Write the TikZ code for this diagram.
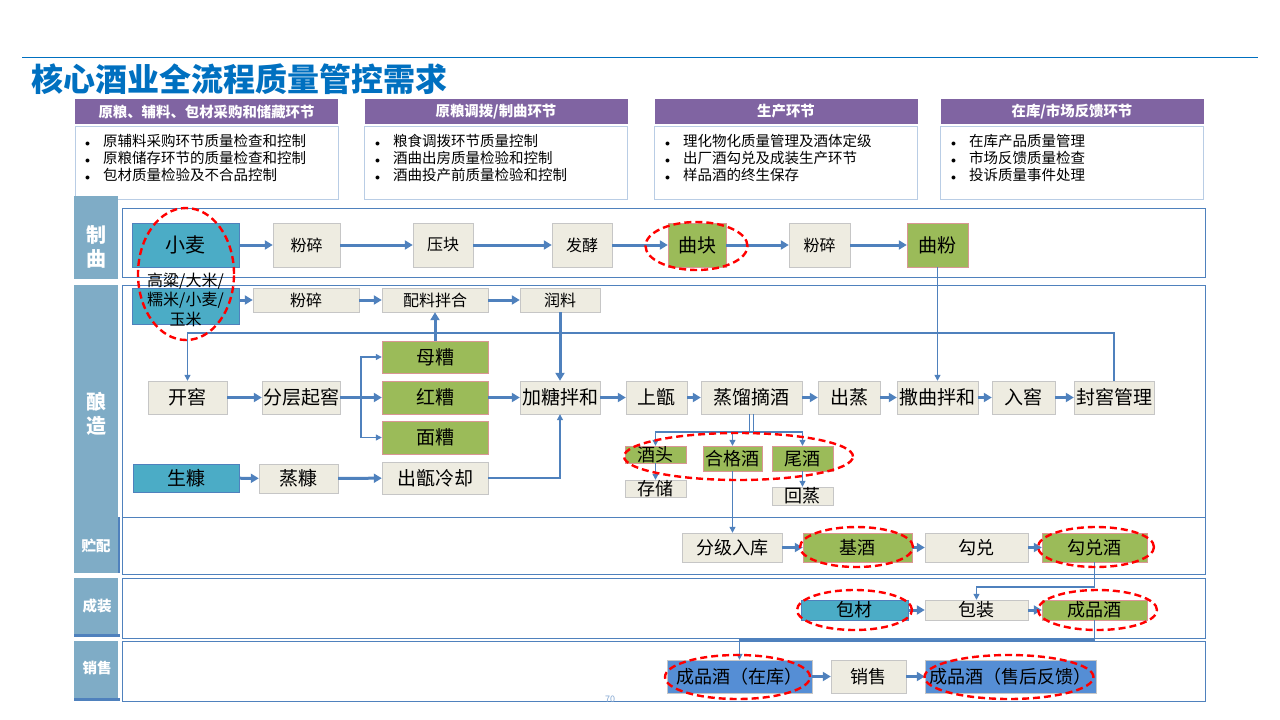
\documentclass[tikz,border=0pt]{standalone}
\usepackage{fontspec}
\setmainfont{Noto Sans CJK SC}
\usepackage{xcolor}
\usepackage{tikz}
\usetikzlibrary{arrows.meta,positioning,shapes.geometric}

\definecolor{titleblue}{HTML}{0070C0}
\definecolor{purplehead}{HTML}{8064A2}
\definecolor{bodyedge}{HTML}{B9CDE5}
\definecolor{bandblue}{HTML}{7FACC6}
\definecolor{laneedge}{HTML}{4F81BD}
\definecolor{beige}{HTML}{EEECE1}
\definecolor{leaf}{HTML}{9BBB59}
\definecolor{pinkedge}{HTML}{D99694}
\definecolor{cyanfill}{HTML}{4BACC6}
\definecolor{skyfill}{HTML}{558ED5}

\newcommand{\bul}{\makebox[18pt][l]{\fontsize{10}{10}\selectfont$\bullet$}}

\begin{document}
\begin{tikzpicture}[
    >={Triangle[length=8pt,width=9pt]},
    x=1pt, y=-1pt,
    band/.style={fill=bandblue,inner sep=0pt,minimum width=44},
    bandtext/.style={text=white,inner sep=0pt,align=center,
                     font=\fontsize{20}{24}\selectfont\bfseries},
    bandsmall/.style={bandtext,font=\fontsize{14.5}{16}\selectfont\bfseries},
    lane/.style={draw=laneedge,line width=0.9pt,inner sep=0pt,minimum width=1083},
    headbar/.style={fill=purplehead,text=white,inner sep=0pt,minimum width=263,
                    minimum height=25,font=\fontsize{14.4}{16}\selectfont\bfseries},
    bodybox/.style={draw=bodyedge,line width=0.8pt,inner sep=0pt,
                    minimum width=263,minimum height=73},
    bullets/.style={anchor=north west,align=left,inner sep=0pt,
                    font=\fontsize{14.5}{17}\selectfont},
    box/.style={draw=gray!45,fill=beige,inner sep=0pt,minimum height=33,
                font=\fontsize{19}{21}\selectfont},
    fsmall/.style={font=\fontsize{16}{18}\selectfont},
    fmid/.style={font=\fontsize{18}{20}\selectfont},
    greenbox/.style={box,fill=leaf,draw=pinkedge},
    rawbox/.style={box,fill=cyanfill,draw=laneedge},
    stockbox/.style={box,fill=skyfill,draw=gray!45},
    flow/.style={->,laneedge,line width=3pt},
    link/.style={laneedge,line width=1.2pt},
    linkto/.style={link,-{Triangle[length=6pt,width=6pt]}},
    ring/.style={ellipse,draw=red,line width=2.4pt,dash pattern=on 7pt off 4pt,
                 inner sep=0pt},
  ]
  \useasboundingbox (0,0) rectangle (1280,720);

  % --- title and rule ---
  \draw[titleblue,line width=1pt] (22,57) -- (1258,57);
  \node[anchor=west,inner sep=0pt,text=titleblue,
        font=\fontsize{32}{34}\selectfont\bfseries] (title) at (31,79)
    {核心酒业全流程质量管控需求};

  % --- four requirement panels ---
  \node[headbar] (h1) at (206.5,111.5) {原粮、辅料、包材采购和储藏环节};
  \node[headbar] (h2) at (496,111.5)   {原粮调拨/制曲环节};
  \node[headbar] (h3) at (786,111.5)   {生产环节};
  \node[headbar] (h4) at (1072,111.5)  {在库/市场反馈环节};

  \node[bodybox] (b1) at (206.5,162.5) {};
  \node[bodybox] (b2) at (496,162.5)   {};
  \node[bodybox] (b3) at (786,162.5)   {};
  \node[bodybox] (b4) at (1072,162.5)  {};

  \node[bullets] (t1) at (85,134)
    {\bul 原辅料采购环节质量检查和控制\\\bul 原粮储存环节的质量检查和控制\\\bul 包材质量检验及不合品控制};
  \node[bullets] (t2) at (375,134)
    {\bul 粮食调拨环节质量控制\\\bul 酒曲出房质量检验和控制\\\bul 酒曲投产前质量检验和控制};
  \node[bullets] (t3) at (665,134)
    {\bul 理化物化质量管理及酒体定级\\\bul 出厂酒勾兑及成装生产环节\\\bul 样品酒的终生保存};
  \node[bullets] (t4) at (951,134)
    {\bul 在库产品质量管理\\\bul 市场反馈质量检查\\\bul 投诉质量事件处理};

  % --- stage bands (left) and lanes ---
  \node[band,minimum height=83]  (bandQu)    at (96,237.5) {};
  \node[band,minimum height=232] (bandBrew)  at (96,401)   {};
  \node[band,minimum height=56]  (bandStore) at (96,545)   {};
  \node[band,minimum height=59]  (bandPack)  at (96,607.5) {};
  \node[band,minimum height=60]  (bandSale)  at (96,671)   {};
  \fill[laneedge] (117.5,517) rectangle (120,573);
  \fill[laneedge] (74,634) rectangle (120,637);
  \fill[laneedge] (74,698) rectangle (120,701);

  \node[bandtext]  (tQu)    at (96,247) {制\\曲};
  \node[bandtext]  (tBrew)  at (96,414) {酿\\造};
  \node[bandsmall] (tStore) at (96,546) {贮配};
  \node[bandsmall] (tPack)  at (97,606) {成装};
  \node[bandsmall] (tSale)  at (97,668) {销售};

  \node[lane,minimum height=69]  (laneQu)    at (663.5,242.5) {};
  \node[lane,minimum height=232] (laneBrew)  at (663.5,401)   {};
  \node[lane,minimum height=57]  (laneStore) at (663.5,545.5) {};
  \node[lane,minimum height=60]  (lanePack)  at (663.5,608)   {};
  \node[lane,minimum height=60]  (laneSale)  at (663.5,671)   {};

  % --- 制曲 row ---
  \node[rawbox,minimum width=107,minimum height=44,
        font=\fontsize{20}{22}\selectfont] (wheat) at (185.5,245) {小麦};
  \node[box,fsmall,minimum width=67,minimum height=44] (crushQ) at (306.5,245) {粉碎};
  \node[box,fsmall,minimum width=60,minimum height=44] (press)  at (443,245)   {压块};
  \node[box,fsmall,minimum width=60,minimum height=44] (ferm)   at (582,245)   {发酵};
  \node[greenbox,minimum width=58,minimum height=44]   (qukuai) at (697,245)   {曲块};
  \node[box,fsmall,minimum width=61,minimum height=44] (crushK) at (819.5,245) {粉碎};
  \node[greenbox,minimum width=61,minimum height=44]   (qufen)  at (937.5,245) {曲粉};

  % --- 酿造: grain line ---
  \node[rawbox,minimum width=107,minimum height=36,
        font=\fontsize{16}{19.5}\selectfont] (grain) at (185.5,306)
    {\smash{\begin{tabular}{@{}c@{}}高粱/大米/\\糯米/小麦/\\玉米\end{tabular}}};
  \node[box,fsmall,minimum width=106,minimum height=24] (crushG) at (306,300) {粉碎};
  \node[box,fsmall,minimum width=106,minimum height=24] (mix)    at (435,300) {配料拌合};
  \node[box,fsmall,minimum width=80,minimum height=24]  (soak)   at (560,300) {润料};

  % --- 酿造: main line ---
  \node[box,minimum width=79]  (open)  at (187.5,397.5) {开窖};
  \node[box,minimum width=78]  (layer) at (301,397.5)   {分层起窖};
  \node[greenbox,minimum width=106,minimum height=32] (mu) at (435,357) {母糟};
  \node[greenbox,minimum width=106] (hong) at (435,397.5) {红糟};
  \node[greenbox,minimum width=106] (mian) at (435,437.5) {面糟};
  \node[box,minimum width=80]  (addh)  at (560,397.5)   {加糖拌和};
  \node[box,minimum width=61]  (shang) at (656.5,397.5) {上甑};
  \node[box,minimum width=101] (still) at (751.5,397.5) {蒸馏摘酒};
  \node[box,minimum width=62]  (chu)   at (849,397.5)   {出蒸};
  \node[box,minimum width=81]  (saqu)  at (937.5,397.5) {撒曲拌和};
  \node[box,minimum width=63]  (ru)    at (1023.5,397.5){入窖};
  \node[box,minimum width=80]  (seal)  at (1114,397.5)  {封窖管理};

  % --- 酿造: husk line and cuts ---
  \node[rawbox,minimum width=106,minimum height=28] (husk)  at (186,478)   {生糠};
  \node[box,minimum width=79,minimum height=29]    (steam) at (298.5,478.5) {蒸糠};
  \node[box,minimum width=106,minimum height=32]   (cool)  at (435,478)   {出甑冷却};
  \node[greenbox,fmid,minimum width=61,minimum height=17] (head)  at (655.5,454.5) {酒头};
  \node[greenbox,fmid,minimum width=59,minimum height=25] (good)  at (732.5,458.5) {合格酒};
  \node[greenbox,fmid,minimum width=61,minimum height=25] (tail)  at (802.5,458.5) {尾酒};
  \node[box,fmid,minimum width=61,minimum height=17]      (store) at (655.5,488.5) {存储};
  \node[box,fmid,minimum width=61,minimum height=18]      (back)  at (802.5,496)   {回蒸};

  % --- 贮配 / 成装 / 销售 ---
  \node[box,fmid,minimum width=100,minimum height=29]      (grade)   at (732,547.5)  {分级入库};
  \node[greenbox,fmid,minimum width=109,minimum height=29] (base)    at (857.5,547.5) {基酒};
  \node[box,fmid,minimum width=103,minimum height=29]      (blend)   at (976.5,547.5) {勾兑};
  \node[greenbox,fmid,minimum width=105,minimum height=29] (blended) at (1094.5,547.5) {勾兑酒};
  \node[rawbox,fmid,minimum width=107,minimum height=20]   (wrap)    at (854.5,610)  {包材};
  \node[box,fmid,minimum width=103,minimum height=20]      (packing) at (976.5,610)  {包装};
  \node[greenbox,fmid,minimum width=105,minimum height=20] (product) at (1094.5,610) {成品酒};
  \node[stockbox,fmid,minimum width=145] (stock)    at (739.5,676.5)  {成品酒（在库）};
  \node[box,fmid,minimum width=75]       (sale)     at (868.5,676.5)  {销售};
  \node[stockbox,fmid,minimum width=171] (feedback) at (1010.5,676.5) {成品酒（售后反馈）};

  % --- helper points for routed lines ---
  \coordinate (loopR) at (1114,333);
  \coordinate (loopL) at (187.5,333);
  \coordinate (fork)  at (361,397.5);
  \coordinate (split) at (751.5,432);
  \coordinate (bend1) at (1094.5,587);
  \coordinate (bend2) at (1094.5,640);

  % --- main flows ---
  \foreach \a/\b in {wheat/crushQ,crushQ/press,press/ferm,ferm/qukuai,qukuai/crushK,crushK/qufen}
    { \draw[flow] (\a) -- (\b); }
  \draw[flow] (grain.east |- crushG.west) -- (crushG.west);
  \foreach \a/\b in {crushG/mix,mix/soak,soak/addh,mu/mix,open/layer,layer/hong,hong/addh}
    { \draw[flow] (\a) -- (\b); }
  \foreach \a/\b in {addh/shang,shang/still,still/chu,chu/saqu,saqu/ru,ru/seal}
    { \draw[flow] (\a) -- (\b); }
  \foreach \a/\b in {husk/steam,steam/cool,grade/base,base/blend,blend/blended,
                     wrap/packing,packing/product,stock/sale,sale/feedback}
    { \draw[flow] (\a) -- (\b); }

  % --- thin routed links ---
  \draw[linkto] (qufen) -- (saqu);
  \draw[linkto] (seal) -- (loopR) -- (loopL) -- (open);
  \draw[linkto] (fork) |- (mu);
  \draw[linkto] (fork) |- (mian);
  \draw[linkto] (cool) -| (addh);
  \draw[link] ([xshift=-2pt]still.south) -- ([xshift=-2pt]split);
  \draw[link] ([xshift=2pt]still.south) -- ([xshift=2pt]split);
  \draw[linkto] (split) -| (head);
  \draw[linkto] (split) -| (good);
  \draw[linkto] (split) -| (tail);
  \draw[linkto] (head) -- (store);
  \draw[linkto] (tail) -- (back);
  \draw[linkto] (good) -- (good |- grade.north);
  \draw[linkto] (blended) -- (bend1) -| (packing);
  \draw[linkto] (product) -- (bend2) -| (stock);

  % --- red dashed highlight rings ---
  \node[ring,minimum width=96,minimum height=132]  (ringGrain) at (186,274)    {};
  \node[ring,minimum width=102,minimum height=48]  (ringQu)    at (696.5,246)  {};
  \node[ring,minimum width=229,minimum height=47]  (ringCut)   at (738.5,456.5) {};
  \node[ring,minimum width=113,minimum height=40]  (ringBase)  at (856.5,547)  {};
  \node[ring,minimum width=116,minimum height=40]  (ringBlend) at (1096,547)   {};
  \node[ring,minimum width=115,minimum height=40]  (ringWrap)  at (854.5,610)  {};
  \node[ring,minimum width=119,minimum height=40]  (ringProd)  at (1097.5,610) {};
  \node[ring,minimum width=145,minimum height=44]  (ringStock) at (737.5,677)  {};
  \node[ring,minimum width=169,minimum height=44]  (ringBack)  at (1009,677)   {};

  % --- page number ---
  \node[inner sep=0pt,text=laneedge!70,font=\fontsize{9}{10}\selectfont] (pageno) at (610,699) {70};

\end{tikzpicture}
\end{document}
